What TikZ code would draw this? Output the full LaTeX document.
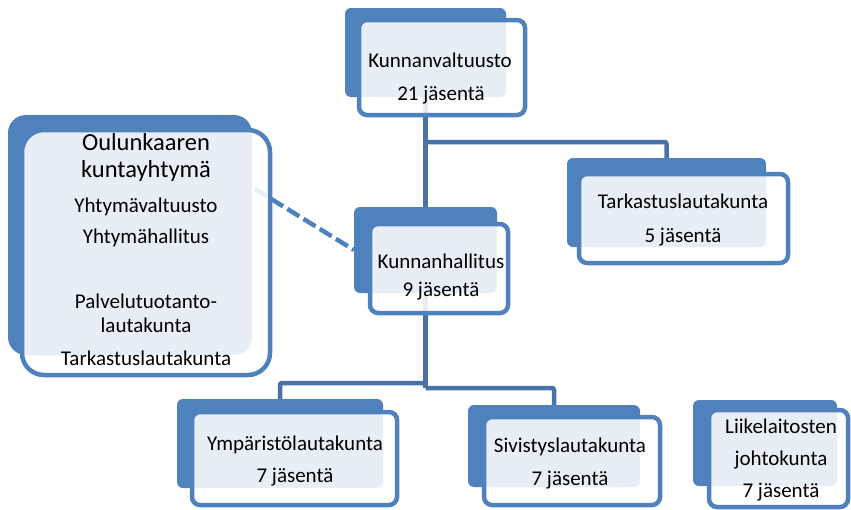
\documentclass[tikz,border=0pt]{standalone}
\usepackage{fontspec}
\setmainfont{Carlito}
\definecolor{accent}{HTML}{4F81BD}
\definecolor{connc}{HTML}{4A72A8}
\pgfdeclarelayer{bg}
\pgfsetlayers{bg,main}
\tikzset{
  backbox/.style={rectangle, fill=accent, draw=none, rounded corners=6pt, anchor=north west, inner sep=0pt, outer sep=0pt},
  frontbox/.style={rectangle, draw=accent, line width=4.5pt, fill=white, fill opacity=0.87, rounded corners=8pt, anchor=north west, inner sep=0pt, outer sep=0pt},
  conn/.style={draw=connc, line width=4.5pt, rounded corners=2pt},
  dashconn/.style={draw=accent, line width=4.5pt, dash pattern=on 14pt off 5pt},
  txt/.style={anchor=base, inner sep=0pt, font=\fontsize{21}{25}\selectfont, text=black},
  bigtxt/.style={anchor=base, inner sep=0pt, font=\fontsize{24.5}{29}\selectfont, text=black}
}
\begin{document}
\begin{tikzpicture}[x=1pt,y=-1pt]
\useasboundingbox (0,0) rectangle (851,509);
% back boxes
\node[backbox, minimum width=161pt, minimum height=89pt] (kvb) at (345,8) {};
\node[backbox, minimum width=143pt, minimum height=86pt] (khb) at (354,207) {};
\node[backbox, minimum width=199pt, minimum height=89pt] (tkb) at (567,158) {};
\node[backbox, minimum width=206pt, minimum height=89pt] (ymb) at (177,399) {};
\node[backbox, minimum width=172pt, minimum height=82pt] (svb) at (468,405) {};
\node[backbox, minimum width=144pt, minimum height=86pt] (lkb) at (693,400) {};
\node[backbox, minimum width=244pt, minimum height=240pt, rounded corners=18pt] (oub) at (8,115) {};
% connectors, behind the boxes
\coordinate (j1) at (kvb.south |- 0,142);
\coordinate (j2) at (khb.south |- 0,383);
\coordinate (j3) at (khb.south |- 0,388);
\coordinate (ds) at (255,189);
\begin{pgfonlayer}{bg}
\draw[conn] (kvb.south) -- (khb.north);
\draw[conn] (j1) -| (tkb.north);
\draw[conn] (khb.south) -- (j3);
\draw[conn] (j2) -| (ymb.north);
\draw[conn] (j3) -| (svb.north);
\draw[dashconn] (ds) -- (khb.west);
\end{pgfonlayer}
% front boxes
\node[frontbox, minimum width=166pt, minimum height=95pt] (kvf) at (359,20) {};
\node[frontbox, minimum width=138pt, minimum height=89pt] (khf) at (370,224) {};
\node[frontbox, minimum width=209pt, minimum height=89pt] (tkf) at (579,174) {};
\node[frontbox, minimum width=205pt, minimum height=93pt] (ymf) at (192,412) {};
\node[frontbox, minimum width=176pt, minimum height=88pt] (svf) at (484,417) {};
\node[frontbox, minimum width=139pt, minimum height=97pt] (lkf) at (709,410) {};
\node[frontbox, minimum width=248pt, minimum height=245pt, rounded corners=22pt] (ouf) at (22,130) {};
% texts
\node[txt] (kv1) at (440,67) {Kunnanvaltuusto};
\node[txt] (kv2) at (441,100) {21 jäsentä};
\node[txt] (kh1) at (441,268) {Kunnanhallitus};
\node[txt] (kh2) at (441,296) {9 jäsentä};
\node[txt] (tk1) at (683,208) {Tarkastuslautakunta};
\node[txt] (tk2) at (683,242) {5 jäsentä};
\node[txt] (ym1) at (295,450) {Ympäristölautakunta};
\node[txt] (ym2) at (295,482) {7 jäsentä};
\node[txt] (sv1) at (570,452) {Sivistyslautakunta};
\node[txt] (sv2) at (570,485) {7 jäsentä};
\node[txt] (lk1) at (781,433) {Liikelaitosten};
\node[txt] (lk2) at (781,465) {johtokunta};
\node[txt] (lk3) at (781,497) {7 jäsentä};
\node[bigtxt] (ou1) at (146,150) {Oulunkaaren};
\node[bigtxt] (ou2) at (146,177) {kuntayhtymä};
\node[txt] (ou3) at (146,212) {Yhtymävaltuusto};
\node[txt] (ou4) at (146,243) {Yhtymähallitus};
\node[txt] (ou5) at (146,308) {Palvelutuotanto-};
\node[txt] (ou6) at (146,332) {lautakunta};
\node[txt] (ou7) at (146,365) {Tarkastuslautakunta};
\end{tikzpicture}
\end{document}
